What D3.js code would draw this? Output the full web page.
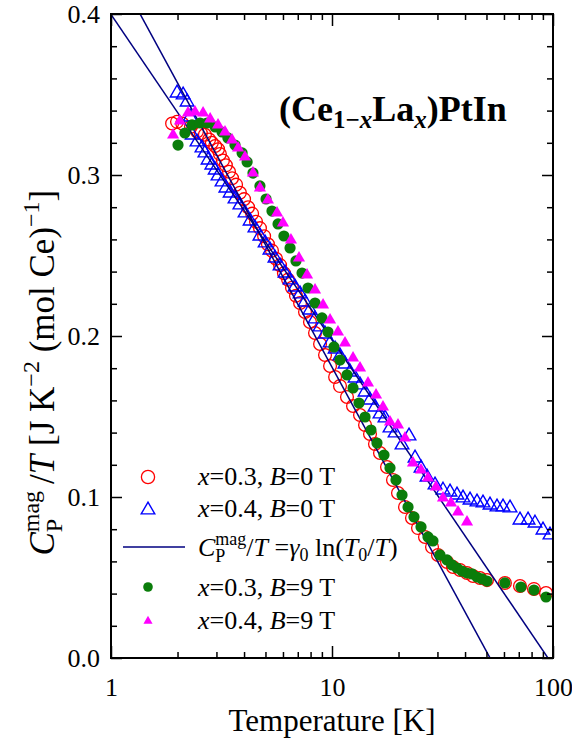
<!DOCTYPE html>
<html>
<head>
<meta charset="utf-8">
<script src="https://cdn.jsdelivr.net/npm/d3@7"></script>
<style>
body { margin: 0; background: #fff; }
text { font-family: "Liberation Serif", "Times New Roman", serif; }
</style>
</head>
<body>
<svg id="chart" width="572" height="742"></svg>
<script>
// x=0.3, B=0 T (open red circles)
var tX03B0 = [1.89,1.99,2.10,2.30,2.45,2.55,2.66,2.78,2.86,2.96,3.05,3.11,3.21,3.31,3.42,3.53,3.68,3.83,4.00,4.17,4.35,4.53,4.72,4.93,5.13,5.35,5.58,5.82,6.06,6.33,6.59,6.87,7.17,7.55,7.95,8.38,8.83,9.30,9.80,10.33,10.87,11.69,12.45,13.39,14.11,14.86,15.65,16.49,17.74,18.88,19.89,21.40,23.01,24.50,26.35,28.35,30.17,33.14,35.28,37.95,40.82,43.45,46.74,50.27,60.6,70.9,82.0,93.0]
var cX03B0 = [0.332,0.333,0.332,0.330,0.327,0.326,0.325,0.322,0.320,0.318,0.316,0.313,0.309,0.306,0.302,0.298,0.294,0.289,0.285,0.280,0.276,0.271,0.267,0.262,0.257,0.253,0.248,0.244,0.239,0.235,0.230,0.225,0.2205,0.2149,0.2087,0.2019,0.1950,0.1882,0.1814,0.1745,0.1689,0.1621,0.1565,0.1509,0.1447,0.1391,0.1329,0.1273,0.1186,0.1106,0.1025,0.0938,0.0870,0.0807,0.0752,0.0689,0.0640,0.0596,0.0565,0.0547,0.0528,0.0509,0.0497,0.0484,0.0466,0.0447,0.0429,0.0404]

// x=0.4, B=0 T (open blue triangles)
var tX04B0 = [1.99,2.12,2.21,2.28,2.33,2.45,2.58,2.66,2.75,2.86,2.96,3.05,3.18,3.31,3.46,3.64,3.83,4.04,4.26,4.48,4.72,4.98,5.24,5.52,5.82,6.13,6.46,6.80,7.17,7.55,7.95,8.38,8.83,9.30,9.80,10.33,10.87,11.45,12.06,12.72,13.39,14.11,14.86,15.65,16.49,17.37,18.30,19.29,20.74,22.31,23.75,25.28,26.91,29.25,31.79,34.20,36.78,39.16,42.12,45.30,48.22,51.87,55.80,59.40,63.90,70.90,77.10,82.90,90.10,96.90]
var cX04B0 = [0.3509,0.3497,0.3453,0.3360,0.3248,0.3205,0.3168,0.3137,0.3093,0.3062,0.3031,0.2994,0.2957,0.2919,0.2888,0.2851,0.2814,0.2764,0.2714,0.2671,0.2621,0.2578,0.2534,0.2484,0.2435,0.2391,0.2348,0.2304,0.2261,0.2211,0.2161,0.2106,0.2056,0.2012,0.1957,0.1919,0.1876,0.1826,0.1776,0.1739,0.1696,0.1652,0.1602,0.1559,0.1516,0.1491,0.1429,0.1398,0.1323,0.1379,0.1242,0.1180,0.1124,0.1075,0.1043,0.1031,0.1012,0.0994,0.0981,0.0969,0.0963,0.0950,0.0938,0.0938,0.0932,0.0857,0.0857,0.0838,0.0795,0.0764]

// x=0.3, B=9 T (green dots)
var tX03B9 = [2.01,2.16,2.33,2.53,2.72,2.96,3.18,3.38,3.64,3.92,4.13,4.39,4.72,5.03,5.35,5.70,6.06,6.46,6.87,7.32,7.79,8.38,9.01,9.59,10.21,10.87,11.69,12.45,13.25,14.11,15.01,15.98,17.19,18.30,19.48,20.74,22.08,23.50,25.28,27.19,28.64,30.81,33.14,34.91,36.78,38.75,40.82,43.0,45.3,47.72,50.27,60.6,71.6,82.0,93.0]
var cX03B9 = [0.3186,0.3261,0.3311,0.3323,0.3323,0.3298,0.3267,0.3230,0.3186,0.3137,0.3081,0.3012,0.2932,0.2851,0.2776,0.2696,0.2621,0.2547,0.2466,0.2391,0.2298,0.2205,0.2112,0.2025,0.1932,0.1851,0.1758,0.1677,0.1584,0.1497,0.1416,0.1335,0.1261,0.1180,0.1106,0.1012,0.0938,0.0876,0.0814,0.0752,0.0727,0.0640,0.0609,0.0578,0.0559,0.0540,0.0528,0.0522,0.0503,0.0491,0.0478,0.0466,0.0441,0.0422,0.0379]

// x=0.4, B=9 T (magenta triangles)
var tX04B9 = [1.91,2.05,2.23,2.40,2.61,2.81,3.05,3.28,3.53,3.76,4.04,4.39,4.72,5.13,5.64,6.00,6.52,7.09,7.71,8.38,9.11,9.80,10.64,11.45,12.45,13.39,14.55,15.82,17.01,18.30,19.89,21.40,23.25,25.28,27.19,29.55,31.79,34.55,37.17,40.82]
var cX04B9 = [0.3248,0.3335,0.3385,0.3391,0.3385,0.3348,0.3311,0.3267,0.3217,0.3168,0.3112,0.3012,0.2919,0.2845,0.2764,0.2702,0.2596,0.2484,0.2379,0.2286,0.2193,0.2099,0.2025,0.1957,0.1863,0.1801,0.1708,0.1634,0.1559,0.1466,0.1447,0.1366,0.1211,0.1168,0.1118,0.1062,0.0994,0.0963,0.0907,0.0845]

// fits C/T = gamma0 ln(T0/T)
var fitGamma = [0.0878, 0.1097]
var fitT0 = [94.9, 51.9]

var xTicks = [1, 10, 100]
var xMinor = [2,3,4,5,6,7,8,9,20,30,40,50,60,70,80,90]
var yTicks = [0, 0.1, 0.2, 0.3, 0.4]
var yMinor = [0.02,0.04,0.06,0.08,0.12,0.14,0.16,0.18,0.22,0.24,0.26,0.28,0.32,0.34,0.36,0.38]

var mL = 111, mR = 553, mT = 14, mB = 658

var svg = d3.select("#chart")

var x = d3.scaleLog().domain([1, 100]).range([mL, mR])
var y = d3.scaleLinear().domain([0, 0.4]).range([mB, mT])

svg.append("defs").append("clipPath").attr("id", "plotclip")
    .append("rect")
    .attr("x", mL).attr("y", mT)
    .attr("width", mR - mL).attr("height", mB - mT)

var plot = svg.append("g").attr("clip-path", "url(#plotclip)")

// red open circles
plot.selectAll(".red").data(tX03B0).enter().append("circle")
    .attr("cx", (d) => x(d))
    .attr("cy", (d, i) => y(cX03B0[i]))
    .attr("r", 6.4)
    .style("fill", "none")
    .style("stroke", "#ff0000")
    .style("stroke-width", 1.3)

// blue open triangles
var triBig = d3.symbol().type(d3.symbolTriangle).size(80)
plot.selectAll(".blue").data(tX04B0).enter().append("path")
    .attr("d", triBig)
    .attr("transform", (d, i) => "translate(" + x(d) + "," + y(cX04B0[i]) + ")")
    .style("fill", "none")
    .style("stroke", "#0000ff")
    .style("stroke-width", 1.4)

// fit lines
fitGamma.forEach((g, i) => {
    var ends = [1, 100].map((t) => [x(t), y(g * Math.log(fitT0[i] / t))])
    plot.append("line")
        .attr("x1", ends[0][0]).attr("y1", ends[0][1])
        .attr("x2", ends[1][0]).attr("y2", ends[1][1])
        .style("stroke", "#000080")
        .style("stroke-width", 1.5)
})

// green dots
plot.selectAll(".green").data(tX03B9).enter().append("circle")
    .attr("cx", (d) => x(d))
    .attr("cy", (d, i) => y(cX03B9[i]))
    .attr("r", 5.6)
    .style("fill", "#0a7d0a")

// magenta triangles
var triMid = d3.symbol().type(d3.symbolTriangle).size(64)
plot.selectAll(".mag").data(tX04B9).enter().append("path")
    .attr("d", triMid)
    .attr("transform", (d, i) => "translate(" + x(d) + "," + y(cX04B9[i]) + ")")
    .style("fill", "#ff00ff")

// axes, ticks pointing inward
function styleAxis(g) {
    g.select(".domain").remove()
    g.selectAll(".tick line").style("stroke", "#000").style("stroke-width", 1.5)
    g.selectAll("text").style("font-family", "Liberation Serif, serif").style("font-size", "26px").style("fill", "#000")
}

svg.append("g").attr("transform", "translate(0," + mB + ")")
    .call(d3.axisBottom(x).tickValues(xTicks).tickFormat(d3.format("d")).tickSizeInner(-12).tickSizeOuter(0).tickPadding(20))
    .call(styleAxis)
svg.append("g").attr("transform", "translate(0," + mB + ")")
    .call(d3.axisBottom(x).tickValues(xMinor).tickFormat("").tickSizeInner(-6).tickSizeOuter(0))
    .call(styleAxis)
svg.append("g").attr("transform", "translate(0," + mT + ")")
    .call(d3.axisTop(x).tickValues(xTicks).tickFormat("").tickSizeInner(-12).tickSizeOuter(0))
    .call(styleAxis)
svg.append("g").attr("transform", "translate(0," + mT + ")")
    .call(d3.axisTop(x).tickValues(xMinor).tickFormat("").tickSizeInner(-6).tickSizeOuter(0))
    .call(styleAxis)

svg.append("g").attr("transform", "translate(" + mL + ",0)")
    .call(d3.axisLeft(y).tickValues(yTicks).tickFormat(d3.format(".1f")).tickSizeInner(-11).tickSizeOuter(0).tickPadding(11))
    .call(styleAxis)
svg.append("g").attr("transform", "translate(" + mL + ",0)")
    .call(d3.axisLeft(y).tickValues(yMinor).tickFormat("").tickSizeInner(-6).tickSizeOuter(0))
    .call(styleAxis)
svg.append("g").attr("transform", "translate(" + mR + ",0)")
    .call(d3.axisRight(y).tickValues(yTicks).tickFormat("").tickSizeInner(-11).tickSizeOuter(0))
    .call(styleAxis)
svg.append("g").attr("transform", "translate(" + mR + ",0)")
    .call(d3.axisRight(y).tickValues(yMinor).tickFormat("").tickSizeInner(-6).tickSizeOuter(0))
    .call(styleAxis)

svg.append("rect")
    .attr("x", mL).attr("y", mT)
    .attr("width", mR - mL).attr("height", mB - mT)
    .style("fill", "none").style("stroke", "#000").style("stroke-width", 2)

// x axis title
svg.append("text")
    .attr("x", (mL + mR) / 2)
    .attr("y", 731)
    .attr("text-anchor", "middle")
    .style("font-size", "31px")
    .text("Temperature [K]")

// y axis title
var yl = svg.append("g")
var ylt = yl.append("text").style("font-size", "35px")
ylt.append("tspan").style("font-style", "italic").text("C")
var pSub = ylt.append("tspan").style("font-size", "24px").attr("dy", 8).text("P")
var pw = pSub.node().getComputedTextLength()
ylt.append("tspan").style("font-size", "24px").attr("dx", -pw).attr("dy", -23).text("mag")
ylt.append("tspan").attr("dy", 15).text("\u2009/")
ylt.append("tspan").style("font-style", "italic").text("T")
ylt.append("tspan").text(" [J K")
ylt.append("tspan").style("font-size", "24px").attr("dy", -15).text("\u22122")
ylt.append("tspan").attr("dy", 15).text(" (mol Ce)")
ylt.append("tspan").style("font-size", "24px").attr("dy", -15).text("\u22121")
ylt.append("tspan").attr("dy", 15).text("]")
var ylw = ylt.node().getComputedTextLength()
yl.attr("transform", "translate(54," + (366 + ylw / 2) + ") rotate(-90)")

// title
var tt = svg.append("text").attr("x", 279).attr("y", 121)
    .style("font-size", "36px").style("font-weight", "bold")
tt.append("tspan").text("(Ce")
tt.append("tspan").style("font-size", "25px").attr("dy", 7).text("1\u2212")
tt.append("tspan").style("font-size", "25px").style("font-style", "italic").text("x")
tt.append("tspan").attr("dy", -7).text("La")
tt.append("tspan").style("font-size", "25px").style("font-style", "italic").attr("dy", 7).text("x")
tt.append("tspan").attr("dy", -7).text(")PtIn")

// legend
var legX = 148, legText = 198
var leg = svg.append("g")

leg.append("circle").attr("cx", legX).attr("cy", 477).attr("r", 6.6)
    .style("fill", "none").style("stroke", "#ff0000").style("stroke-width", 1.3)
leg.append("path").attr("d", triBig).attr("transform", "translate(" + legX + ",510)")
    .style("fill", "none").style("stroke", "#0000ff").style("stroke-width", 1.4)
leg.append("line").attr("x1", 123).attr("x2", 185).attr("y1", 547).attr("y2", 547)
    .style("stroke", "#000080").style("stroke-width", 1.5)
leg.append("circle").attr("cx", legX).attr("cy", 587).attr("r", 4.8)
    .style("fill", "#0a7d0a")
leg.append("path").attr("d", d3.symbol().type(d3.symbolTriangle).size(36))
    .attr("transform", "translate(" + legX + ",621)")
    .style("fill", "#ff00ff")

function sampleLabel(yy, xv, bv) {
    var t = leg.append("text").attr("x", legText).attr("y", yy).style("font-size", "26px")
    t.append("tspan").style("font-style", "italic").text("x")
    t.append("tspan").text("=" + xv + ", ")
    t.append("tspan").style("font-style", "italic").text("B")
    t.append("tspan").text("=" + bv + " T")
}
sampleLabel(485, "0.3", "0")
sampleLabel(517, "0.4", "0")
sampleLabel(596, "0.3", "9")
sampleLabel(629, "0.4", "9")

var ft = leg.append("text").attr("x", legText).attr("y", 556).style("font-size", "26px")
ft.append("tspan").style("font-style", "italic").text("C")
var fp = ft.append("tspan").style("font-size", "18px").attr("dy", 6).text("P")
var fpw = fp.node().getComputedTextLength()
ft.append("tspan").style("font-size", "18px").attr("dx", -fpw).attr("dy", -17).text("mag")
ft.append("tspan").attr("dy", 11).text("/")
ft.append("tspan").style("font-style", "italic").text("T")
ft.append("tspan").text(" =")
ft.append("tspan").style("font-style", "italic").text("\u03b3")
ft.append("tspan").style("font-size", "18px").attr("dy", 5).text("0")
ft.append("tspan").attr("dy", -5).text(" ln(")
ft.append("tspan").style("font-style", "italic").text("T")
ft.append("tspan").style("font-size", "18px").attr("dy", 5).text("0")
ft.append("tspan").attr("dy", -5).text("/")
ft.append("tspan").style("font-style", "italic").text("T")
ft.append("tspan").text(")")
</script>
</body>
</html>
